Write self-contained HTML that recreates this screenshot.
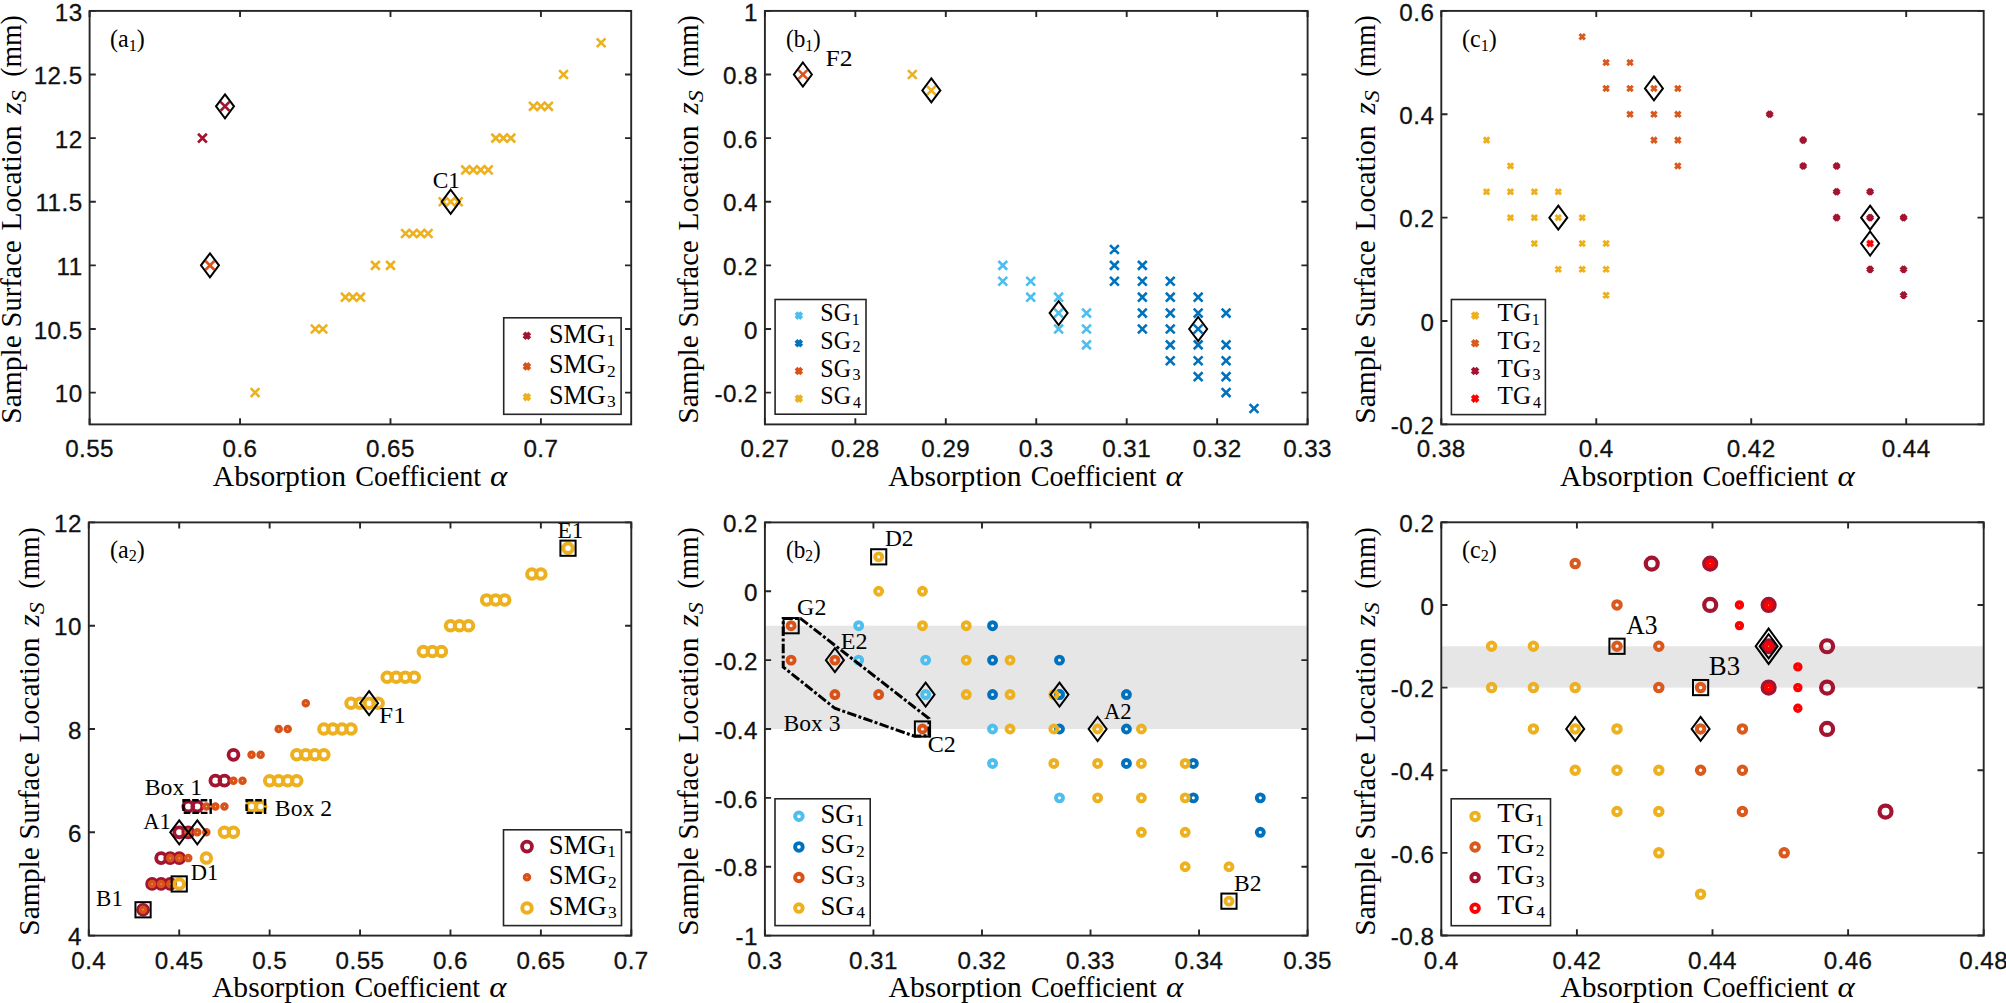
<!DOCTYPE html>
<html><head><meta charset="utf-8"><title>Figure</title>
<style>
html,body{margin:0;padding:0;background:#fff}
svg{display:block}
.tk{font-family:"Liberation Sans",sans-serif;font-size:24.2px;fill:#111;stroke:#111;stroke-width:0.3px;letter-spacing:0.45px}
.al{font-family:"Liberation Serif",serif;font-size:29px;fill:#000}
.an{font-family:"Liberation Serif",serif;fill:#000}
</style></head><body>
<svg width="2006" height="1003" viewBox="0 0 2006 1003">
<rect width="2006" height="1003" fill="#fff"/>
<path d="M250.69 388.19L259.49 396.99M250.69 396.99L259.49 388.19M310.87 324.58L319.67 333.38M310.87 333.38L319.67 324.58M318.39 324.58L327.19 333.38M318.39 333.38L327.19 324.58M340.96 292.77L349.76 301.57M340.96 301.57L349.76 292.77M348.48 292.77L357.28 301.57M348.48 301.57L357.28 292.77M356.00 292.77L364.80 301.57M356.00 301.57L364.80 292.77M371.04 260.96L379.84 269.76M371.04 269.76L379.84 260.96M386.09 260.96L394.89 269.76M386.09 269.76L394.89 260.96M401.13 229.15L409.93 237.95M401.13 237.95L409.93 229.15M408.66 229.15L417.46 237.95M408.66 237.95L417.46 229.15M416.18 229.15L424.98 237.95M416.18 237.95L424.98 229.15M423.70 229.15L432.50 237.95M423.70 237.95L432.50 229.15M438.74 197.35L447.54 206.15M438.74 206.15L447.54 197.35M446.27 197.35L455.07 206.15M446.27 206.15L455.07 197.35M453.79 197.35L462.59 206.15M453.79 206.15L462.59 197.35M461.31 165.54L470.11 174.34M461.31 174.34L470.11 165.54M468.83 165.54L477.63 174.34M468.83 174.34L477.63 165.54M476.36 165.54L485.16 174.34M476.36 174.34L485.16 165.54M483.88 165.54L492.68 174.34M483.88 174.34L492.68 165.54M491.40 133.73L500.20 142.53M491.40 142.53L500.20 133.73M498.92 133.73L507.72 142.53M498.92 142.53L507.72 133.73M506.44 133.73L515.24 142.53M506.44 142.53L515.24 133.73M529.01 101.92L537.81 110.72M529.01 110.72L537.81 101.92M536.53 101.92L545.33 110.72M536.53 110.72L545.33 101.92M544.06 101.92L552.86 110.72M544.06 110.72L552.86 101.92M559.10 70.12L567.90 78.92M559.10 78.92L567.90 70.12M596.71 38.31L605.51 47.11M596.71 47.11L605.51 38.31" stroke="#EDB120" stroke-width="2.6" fill="none"/>
<path d="M205.56 260.96L214.36 269.76M205.56 269.76L214.36 260.96" stroke="#D95319" stroke-width="2.6" fill="none"/>
<path d="M198.03 133.73L206.83 142.53M198.03 142.53L206.83 133.73M220.60 101.92L229.40 110.72M220.60 110.72L229.40 101.92" stroke="#A2142F" stroke-width="2.6" fill="none"/>
<path d="M225.00 94.32L234.00 106.32L225.00 118.32L216.00 106.32Z" stroke="#000" stroke-width="2" fill="none" stroke-linejoin="miter"/>
<path d="M209.96 253.36L218.96 265.36L209.96 277.36L200.96 265.36Z" stroke="#000" stroke-width="2" fill="none" stroke-linejoin="miter"/>
<path d="M450.67 189.75L459.67 201.75L450.67 213.75L441.67 201.75Z" stroke="#000" stroke-width="2" fill="none" stroke-linejoin="miter"/>
<rect x="89.60" y="10.90" width="541.60" height="413.50" fill="none" stroke="#262626" stroke-width="1.9"/>
<path d="M89.60 424.40v-6.2M89.60 10.90v6.2M240.04 424.40v-6.2M240.04 10.90v6.2M390.49 424.40v-6.2M390.49 10.90v6.2M540.93 424.40v-6.2M540.93 10.90v6.2M89.60 392.59h6.2M631.20 392.59h-6.2M89.60 328.98h6.2M631.20 328.98h-6.2M89.60 265.36h6.2M631.20 265.36h-6.2M89.60 201.75h6.2M631.20 201.75h-6.2M89.60 138.13h6.2M631.20 138.13h-6.2M89.60 74.52h6.2M631.20 74.52h-6.2M89.60 10.90h6.2M631.20 10.90h-6.2" stroke="#262626" stroke-width="1.9" fill="none"/>
<text x="89.60" y="457.40" text-anchor="middle" class="tk">0.55</text>
<text x="240.04" y="457.40" text-anchor="middle" class="tk">0.6</text>
<text x="390.49" y="457.40" text-anchor="middle" class="tk">0.65</text>
<text x="540.93" y="457.40" text-anchor="middle" class="tk">0.7</text>
<text x="82.60" y="402.29" text-anchor="end" class="tk">10</text>
<text x="82.60" y="338.68" text-anchor="end" class="tk">10.5</text>
<text x="82.60" y="275.06" text-anchor="end" class="tk">11</text>
<text x="82.60" y="211.45" text-anchor="end" class="tk">11.5</text>
<text x="82.60" y="147.83" text-anchor="end" class="tk">12</text>
<text x="82.60" y="84.22" text-anchor="end" class="tk">12.5</text>
<text x="82.60" y="20.60" text-anchor="end" class="tk">13</text>
<text x="110.00" y="47.00" class="an" font-size="24.5" textLength="34.8" lengthAdjust="spacingAndGlyphs">(a<tspan font-size="16.5" dy="3.8">1</tspan><tspan dy="-3.8">)</tspan></text>
<text x="432.76" y="188.00" class="an" font-size="23.4" textLength="27.29" lengthAdjust="spacingAndGlyphs">C1</text>
<rect x="503.70" y="317.80" width="117.40" height="96.50" fill="#fff" stroke="#262626" stroke-width="1.6"/>
<path d="M524.00 332.80L529.80 338.60M524.00 338.60L529.80 332.80" stroke="#A2142F" stroke-width="4.0" fill="none"/>
<text x="548.89" y="342.50" class="an" font-size="26.6" textLength="56.86" lengthAdjust="spacingAndGlyphs">SMG</text>
<text x="606.42" y="345.90" class="an" font-size="17.4" textLength="8.70" lengthAdjust="spacingAndGlyphs">1</text>
<path d="M524.00 363.50L529.80 369.30M524.00 369.30L529.80 363.50" stroke="#D95319" stroke-width="4.0" fill="none"/>
<text x="548.89" y="373.20" class="an" font-size="26.6" textLength="56.86" lengthAdjust="spacingAndGlyphs">SMG</text>
<text x="607.12" y="376.60" class="an" font-size="17.4" textLength="8.70" lengthAdjust="spacingAndGlyphs">2</text>
<path d="M524.00 394.20L529.80 400.00M524.00 400.00L529.80 394.20" stroke="#EDB120" stroke-width="4.0" fill="none"/>
<text x="548.89" y="403.90" class="an" font-size="26.6" textLength="56.86" lengthAdjust="spacingAndGlyphs">SMG</text>
<text x="607.12" y="407.30" class="an" font-size="17.4" textLength="8.70" lengthAdjust="spacingAndGlyphs">3</text>
<text x="212.80" y="486.30" class="al" style="font-size:29px" textLength="133.14" lengthAdjust="spacingAndGlyphs">Absorption</text>
<text x="355.18" y="486.30" class="al" style="font-size:29px" textLength="125.80" lengthAdjust="spacingAndGlyphs">Coefficient</text>
<text x="490.11" y="486.30" class="al" font-style="italic" style="font-size:29px" textLength="17.29" lengthAdjust="spacingAndGlyphs">α</text>
<text transform="translate(21.30 423.82) rotate(-90)" class="al" style="font-size:29px" textLength="88.74" lengthAdjust="spacingAndGlyphs">Sample</text>
<text transform="translate(21.30 327.45) rotate(-90)" class="al" style="font-size:29px" textLength="87.01" lengthAdjust="spacingAndGlyphs">Surface</text>
<text transform="translate(21.30 230.49) rotate(-90)" class="al" style="font-size:29px" textLength="105.00" lengthAdjust="spacingAndGlyphs">Location</text>
<text transform="translate(21.30 114.39) rotate(-90)" class="al" font-style="italic" style="font-size:29px" textLength="12.23" lengthAdjust="spacingAndGlyphs">z</text>
<text transform="translate(25.80 102.24) rotate(-90)" class="al" font-style="italic" style="font-size:20px" textLength="12.00" lengthAdjust="spacingAndGlyphs">S</text>
<text transform="translate(21.30 76.85) rotate(-90)" class="al" style="font-size:29px" textLength="61.71" lengthAdjust="spacingAndGlyphs">(mm)</text>
<path d="M998.38 260.96L1007.18 269.76M998.38 269.76L1007.18 260.96M998.38 276.87L1007.18 285.67M998.38 285.67L1007.18 276.87M1026.30 276.87L1035.10 285.67M1026.30 285.67L1035.10 276.87M1026.30 292.77L1035.10 301.57M1026.30 301.57L1035.10 292.77M1054.21 292.77L1063.01 301.57M1054.21 301.57L1063.01 292.77M1054.21 308.67L1063.01 317.47M1054.21 317.47L1063.01 308.67M1054.21 324.58L1063.01 333.38M1054.21 333.38L1063.01 324.58M1082.12 308.67L1090.92 317.47M1082.12 317.47L1090.92 308.67M1082.12 324.58L1090.92 333.38M1082.12 333.38L1090.92 324.58M1082.12 340.48L1090.92 349.28M1082.12 349.28L1090.92 340.48" stroke="#4DBEEE" stroke-width="2.6" fill="none"/>
<path d="M1110.03 245.06L1118.83 253.86M1110.03 253.86L1118.83 245.06M1110.03 260.96L1118.83 269.76M1110.03 269.76L1118.83 260.96M1110.03 276.87L1118.83 285.67M1110.03 285.67L1118.83 276.87M1137.95 260.96L1146.75 269.76M1137.95 269.76L1146.75 260.96M1137.95 276.87L1146.75 285.67M1137.95 285.67L1146.75 276.87M1137.95 292.77L1146.75 301.57M1137.95 301.57L1146.75 292.77M1137.95 308.67L1146.75 317.47M1137.95 317.47L1146.75 308.67M1137.95 324.58L1146.75 333.38M1137.95 333.38L1146.75 324.58M1165.86 276.87L1174.66 285.67M1165.86 285.67L1174.66 276.87M1165.86 292.77L1174.66 301.57M1165.86 301.57L1174.66 292.77M1165.86 308.67L1174.66 317.47M1165.86 317.47L1174.66 308.67M1165.86 324.58L1174.66 333.38M1165.86 333.38L1174.66 324.58M1165.86 340.48L1174.66 349.28M1165.86 349.28L1174.66 340.48M1165.86 356.38L1174.66 365.18M1165.86 365.18L1174.66 356.38M1193.77 292.77L1202.57 301.57M1193.77 301.57L1202.57 292.77M1193.77 308.67L1202.57 317.47M1193.77 317.47L1202.57 308.67M1193.77 324.58L1202.57 333.38M1193.77 333.38L1202.57 324.58M1193.77 340.48L1202.57 349.28M1193.77 349.28L1202.57 340.48M1193.77 356.38L1202.57 365.18M1193.77 365.18L1202.57 356.38M1193.77 372.29L1202.57 381.09M1193.77 381.09L1202.57 372.29M1221.69 308.67L1230.49 317.47M1221.69 317.47L1230.49 308.67M1221.69 340.48L1230.49 349.28M1221.69 349.28L1230.49 340.48M1221.69 356.38L1230.49 365.18M1221.69 365.18L1230.49 356.38M1221.69 372.29L1230.49 381.09M1221.69 381.09L1230.49 372.29M1221.69 388.19L1230.49 396.99M1221.69 396.99L1230.49 388.19M1249.60 404.10L1258.40 412.90M1249.60 412.90L1258.40 404.10" stroke="#0072BD" stroke-width="2.6" fill="none"/>
<path d="M798.49 70.12L807.29 78.92M798.49 78.92L807.29 70.12" stroke="#D95319" stroke-width="2.6" fill="none"/>
<path d="M907.93 70.12L916.73 78.92M907.93 78.92L916.73 70.12M926.93 86.02L935.73 94.82M926.93 94.82L935.73 86.02" stroke="#EDB120" stroke-width="2.6" fill="none"/>
<path d="M802.89 62.52L811.89 74.52L802.89 86.52L793.89 74.52Z" stroke="#000" stroke-width="2" fill="none" stroke-linejoin="miter"/>
<path d="M931.33 78.42L940.33 90.42L931.33 102.42L922.33 90.42Z" stroke="#000" stroke-width="2" fill="none" stroke-linejoin="miter"/>
<path d="M1058.61 301.07L1067.61 313.07L1058.61 325.07L1049.61 313.07Z" stroke="#000" stroke-width="2" fill="none" stroke-linejoin="miter"/>
<path d="M1198.17 316.98L1207.17 328.98L1198.17 340.98L1189.17 328.98Z" stroke="#000" stroke-width="2" fill="none" stroke-linejoin="miter"/>
<rect x="764.90" y="10.90" width="542.70" height="413.50" fill="none" stroke="#262626" stroke-width="1.9"/>
<path d="M764.90 424.40v-6.2M764.90 10.90v6.2M855.35 424.40v-6.2M855.35 10.90v6.2M945.80 424.40v-6.2M945.80 10.90v6.2M1036.25 424.40v-6.2M1036.25 10.90v6.2M1126.70 424.40v-6.2M1126.70 10.90v6.2M1217.15 424.40v-6.2M1217.15 10.90v6.2M1307.60 424.40v-6.2M1307.60 10.90v6.2M764.90 392.59h6.2M1307.60 392.59h-6.2M764.90 328.98h6.2M1307.60 328.98h-6.2M764.90 265.36h6.2M1307.60 265.36h-6.2M764.90 201.75h6.2M1307.60 201.75h-6.2M764.90 138.13h6.2M1307.60 138.13h-6.2M764.90 74.52h6.2M1307.60 74.52h-6.2M764.90 10.90h6.2M1307.60 10.90h-6.2" stroke="#262626" stroke-width="1.9" fill="none"/>
<text x="764.90" y="457.40" text-anchor="middle" class="tk">0.27</text>
<text x="855.35" y="457.40" text-anchor="middle" class="tk">0.28</text>
<text x="945.80" y="457.40" text-anchor="middle" class="tk">0.29</text>
<text x="1036.25" y="457.40" text-anchor="middle" class="tk">0.3</text>
<text x="1126.70" y="457.40" text-anchor="middle" class="tk">0.31</text>
<text x="1217.15" y="457.40" text-anchor="middle" class="tk">0.32</text>
<text x="1307.60" y="457.40" text-anchor="middle" class="tk">0.33</text>
<text x="757.90" y="402.29" text-anchor="end" class="tk">-0.2</text>
<text x="757.90" y="338.68" text-anchor="end" class="tk">0</text>
<text x="757.90" y="275.06" text-anchor="end" class="tk">0.2</text>
<text x="757.90" y="211.45" text-anchor="end" class="tk">0.4</text>
<text x="757.90" y="147.83" text-anchor="end" class="tk">0.6</text>
<text x="757.90" y="84.22" text-anchor="end" class="tk">0.8</text>
<text x="757.90" y="20.60" text-anchor="end" class="tk">1</text>
<text x="786.00" y="47.00" class="an" font-size="24.5" textLength="34.8" lengthAdjust="spacingAndGlyphs">(b<tspan font-size="16.5" dy="3.8">1</tspan><tspan dy="-3.8">)</tspan></text>
<text x="825.43" y="65.80" class="an" font-size="23.4" textLength="27.00" lengthAdjust="spacingAndGlyphs">F2</text>
<rect x="775.10" y="299.50" width="90.90" height="114.70" fill="#fff" stroke="#262626" stroke-width="1.6"/>
<path d="M795.95 312.70L801.75 318.50M795.95 318.50L801.75 312.70" stroke="#4DBEEE" stroke-width="4.0" fill="none"/>
<text x="820.34" y="321.10" class="an" font-size="24.6" textLength="30.66" lengthAdjust="spacingAndGlyphs">SG</text>
<text x="851.83" y="324.50" class="an" font-size="16.1" textLength="8.05" lengthAdjust="spacingAndGlyphs">1</text>
<path d="M795.95 340.40L801.75 346.20M795.95 346.20L801.75 340.40" stroke="#0072BD" stroke-width="4.0" fill="none"/>
<text x="820.34" y="348.80" class="an" font-size="24.6" textLength="30.66" lengthAdjust="spacingAndGlyphs">SG</text>
<text x="852.48" y="352.20" class="an" font-size="16.1" textLength="8.05" lengthAdjust="spacingAndGlyphs">2</text>
<path d="M795.95 368.10L801.75 373.90M795.95 373.90L801.75 368.10" stroke="#D95319" stroke-width="4.0" fill="none"/>
<text x="820.34" y="376.50" class="an" font-size="24.6" textLength="30.66" lengthAdjust="spacingAndGlyphs">SG</text>
<text x="852.48" y="379.90" class="an" font-size="16.1" textLength="8.05" lengthAdjust="spacingAndGlyphs">3</text>
<path d="M795.95 395.70L801.75 401.50M795.95 401.50L801.75 395.70" stroke="#EDB120" stroke-width="4.0" fill="none"/>
<text x="820.34" y="404.10" class="an" font-size="24.6" textLength="30.66" lengthAdjust="spacingAndGlyphs">SG</text>
<text x="852.88" y="407.50" class="an" font-size="16.1" textLength="8.05" lengthAdjust="spacingAndGlyphs">4</text>
<text x="888.30" y="486.30" class="al" style="font-size:29px" textLength="133.14" lengthAdjust="spacingAndGlyphs">Absorption</text>
<text x="1030.68" y="486.30" class="al" style="font-size:29px" textLength="125.80" lengthAdjust="spacingAndGlyphs">Coefficient</text>
<text x="1165.61" y="486.30" class="al" font-style="italic" style="font-size:29px" textLength="17.29" lengthAdjust="spacingAndGlyphs">α</text>
<text transform="translate(698.10 423.82) rotate(-90)" class="al" style="font-size:29px" textLength="88.74" lengthAdjust="spacingAndGlyphs">Sample</text>
<text transform="translate(698.10 327.45) rotate(-90)" class="al" style="font-size:29px" textLength="87.01" lengthAdjust="spacingAndGlyphs">Surface</text>
<text transform="translate(698.10 230.49) rotate(-90)" class="al" style="font-size:29px" textLength="105.00" lengthAdjust="spacingAndGlyphs">Location</text>
<text transform="translate(698.10 114.39) rotate(-90)" class="al" font-style="italic" style="font-size:29px" textLength="12.23" lengthAdjust="spacingAndGlyphs">z</text>
<text transform="translate(702.60 102.24) rotate(-90)" class="al" font-style="italic" style="font-size:20px" textLength="12.00" lengthAdjust="spacingAndGlyphs">S</text>
<text transform="translate(698.10 76.85) rotate(-90)" class="al" style="font-size:29px" textLength="61.71" lengthAdjust="spacingAndGlyphs">(mm)</text>
<path d="M1483.85 137.42L1489.25 142.82M1483.85 142.82L1489.25 137.42M1483.85 189.11L1489.25 194.51M1483.85 194.51L1489.25 189.11M1507.76 163.26L1513.16 168.66M1507.76 168.66L1513.16 163.26M1507.76 189.11L1513.16 194.51M1507.76 194.51L1513.16 189.11M1507.76 214.95L1513.16 220.35M1507.76 220.35L1513.16 214.95M1531.68 189.11L1537.08 194.51M1531.68 194.51L1537.08 189.11M1531.68 214.95L1537.08 220.35M1531.68 220.35L1537.08 214.95M1531.68 240.79L1537.08 246.19M1531.68 246.19L1537.08 240.79M1555.59 189.11L1560.99 194.51M1555.59 194.51L1560.99 189.11M1555.59 214.95L1560.99 220.35M1555.59 220.35L1560.99 214.95M1555.59 266.64L1560.99 272.04M1555.59 272.04L1560.99 266.64M1579.50 214.95L1584.90 220.35M1579.50 220.35L1584.90 214.95M1579.50 240.79L1584.90 246.19M1579.50 246.19L1584.90 240.79M1579.50 266.64L1584.90 272.04M1579.50 272.04L1584.90 266.64M1603.41 240.79L1608.81 246.19M1603.41 246.19L1608.81 240.79M1603.41 266.64L1608.81 272.04M1603.41 272.04L1608.81 266.64M1603.41 292.48L1608.81 297.88M1603.41 297.88L1608.81 292.48" stroke="#EDB120" stroke-width="3" fill="none"/>
<path d="M1579.50 34.04L1584.90 39.44M1579.50 39.44L1584.90 34.04M1603.41 59.89L1608.81 65.29M1603.41 65.29L1608.81 59.89M1603.41 85.73L1608.81 91.13M1603.41 91.13L1608.81 85.73M1627.32 59.89L1632.72 65.29M1627.32 65.29L1632.72 59.89M1627.32 85.73L1632.72 91.13M1627.32 91.13L1632.72 85.73M1627.32 111.57L1632.72 116.97M1627.32 116.97L1632.72 111.57M1651.24 85.73L1656.64 91.13M1651.24 91.13L1656.64 85.73M1651.24 111.57L1656.64 116.97M1651.24 116.97L1656.64 111.57M1651.24 137.42L1656.64 142.82M1651.24 142.82L1656.64 137.42M1675.15 85.73L1680.55 91.13M1675.15 91.13L1680.55 85.73M1675.15 111.57L1680.55 116.97M1675.15 116.97L1680.55 111.57M1675.15 137.42L1680.55 142.82M1675.15 142.82L1680.55 137.42M1675.15 163.26L1680.55 168.66M1675.15 168.66L1680.55 163.26" stroke="#D95A1C" stroke-width="3" fill="none"/>
<path d="M1767.18 111.77L1772.18 116.77M1767.18 116.77L1772.18 111.77M1800.66 137.62L1805.66 142.62M1800.66 142.62L1805.66 137.62M1800.66 163.46L1805.66 168.46M1800.66 168.46L1805.66 163.46M1834.13 163.46L1839.13 168.46M1834.13 168.46L1839.13 163.46M1834.13 189.31L1839.13 194.31M1834.13 194.31L1839.13 189.31M1834.13 215.15L1839.13 220.15M1834.13 220.15L1839.13 215.15M1867.61 189.31L1872.61 194.31M1867.61 194.31L1872.61 189.31M1867.61 215.15L1872.61 220.15M1867.61 220.15L1872.61 215.15M1867.61 266.84L1872.61 271.84M1867.61 271.84L1872.61 266.84M1901.08 215.15L1906.08 220.15M1901.08 220.15L1906.08 215.15M1901.08 266.84L1906.08 271.84M1901.08 271.84L1906.08 266.84M1901.08 292.68L1906.08 297.68M1901.08 297.68L1906.08 292.68" stroke="#A2142F" stroke-width="4.4" fill="none"/>
<path d="M1867.41 240.79L1872.81 246.19M1867.41 246.19L1872.81 240.79" stroke="#FF0000" stroke-width="3.6" fill="none"/>
<path d="M1558.29 205.65L1567.29 217.65L1558.29 229.65L1549.29 217.65Z" stroke="#000" stroke-width="2" fill="none" stroke-linejoin="miter"/>
<path d="M1653.94 76.43L1662.94 88.43L1653.94 100.43L1644.94 88.43Z" stroke="#000" stroke-width="2" fill="none" stroke-linejoin="miter"/>
<path d="M1870.11 205.65L1879.11 217.65L1870.11 229.65L1861.11 217.65Z" stroke="#000" stroke-width="2" fill="none" stroke-linejoin="miter"/>
<path d="M1870.11 231.49L1879.11 243.49L1870.11 255.49L1861.11 243.49Z" stroke="#000" stroke-width="2" fill="none" stroke-linejoin="miter"/>
<rect x="1441.30" y="10.90" width="542.40" height="413.50" fill="none" stroke="#262626" stroke-width="1.9"/>
<path d="M1441.30 424.40v-6.2M1441.30 10.90v6.2M1596.27 424.40v-6.2M1596.27 10.90v6.2M1751.24 424.40v-6.2M1751.24 10.90v6.2M1906.21 424.40v-6.2M1906.21 10.90v6.2M1441.30 424.40h6.2M1983.70 424.40h-6.2M1441.30 321.02h6.2M1983.70 321.02h-6.2M1441.30 217.65h6.2M1983.70 217.65h-6.2M1441.30 114.27h6.2M1983.70 114.27h-6.2M1441.30 10.90h6.2M1983.70 10.90h-6.2" stroke="#262626" stroke-width="1.9" fill="none"/>
<text x="1441.30" y="457.40" text-anchor="middle" class="tk">0.38</text>
<text x="1596.27" y="457.40" text-anchor="middle" class="tk">0.4</text>
<text x="1751.24" y="457.40" text-anchor="middle" class="tk">0.42</text>
<text x="1906.21" y="457.40" text-anchor="middle" class="tk">0.44</text>
<text x="1434.30" y="434.10" text-anchor="end" class="tk">-0.2</text>
<text x="1434.30" y="330.72" text-anchor="end" class="tk">0</text>
<text x="1434.30" y="227.35" text-anchor="end" class="tk">0.2</text>
<text x="1434.30" y="123.97" text-anchor="end" class="tk">0.4</text>
<text x="1434.30" y="20.60" text-anchor="end" class="tk">0.6</text>
<text x="1462.00" y="47.00" class="an" font-size="24.5" textLength="34.8" lengthAdjust="spacingAndGlyphs">(c<tspan font-size="16.5" dy="3.8">1</tspan><tspan dy="-3.8">)</tspan></text>
<rect x="1451.40" y="299.50" width="94.00" height="115.10" fill="#fff" stroke="#262626" stroke-width="1.6"/>
<path d="M1472.20 312.70L1478.00 318.50M1472.20 318.50L1478.00 312.70" stroke="#EDB120" stroke-width="4.0" fill="none"/>
<text x="1497.60" y="321.10" class="an" font-size="24.6" textLength="33.43" lengthAdjust="spacingAndGlyphs">TG</text>
<text x="1531.83" y="324.50" class="an" font-size="16.1" textLength="8.05" lengthAdjust="spacingAndGlyphs">1</text>
<path d="M1472.20 340.40L1478.00 346.20M1472.20 346.20L1478.00 340.40" stroke="#D95A1C" stroke-width="4.0" fill="none"/>
<text x="1497.60" y="348.80" class="an" font-size="24.6" textLength="33.43" lengthAdjust="spacingAndGlyphs">TG</text>
<text x="1532.48" y="352.20" class="an" font-size="16.1" textLength="8.05" lengthAdjust="spacingAndGlyphs">2</text>
<path d="M1472.20 368.10L1478.00 373.90M1472.20 373.90L1478.00 368.10" stroke="#A2142F" stroke-width="4.0" fill="none"/>
<text x="1497.60" y="376.50" class="an" font-size="24.6" textLength="33.43" lengthAdjust="spacingAndGlyphs">TG</text>
<text x="1532.48" y="379.90" class="an" font-size="16.1" textLength="8.05" lengthAdjust="spacingAndGlyphs">3</text>
<path d="M1472.20 395.70L1478.00 401.50M1472.20 401.50L1478.00 395.70" stroke="#FF0000" stroke-width="4.0" fill="none"/>
<text x="1497.60" y="404.10" class="an" font-size="24.6" textLength="33.43" lengthAdjust="spacingAndGlyphs">TG</text>
<text x="1532.88" y="407.50" class="an" font-size="16.1" textLength="8.05" lengthAdjust="spacingAndGlyphs">4</text>
<text x="1560.10" y="486.30" class="al" style="font-size:29px" textLength="133.14" lengthAdjust="spacingAndGlyphs">Absorption</text>
<text x="1702.48" y="486.30" class="al" style="font-size:29px" textLength="125.80" lengthAdjust="spacingAndGlyphs">Coefficient</text>
<text x="1837.41" y="486.30" class="al" font-style="italic" style="font-size:29px" textLength="17.29" lengthAdjust="spacingAndGlyphs">α</text>
<text transform="translate(1374.70 423.82) rotate(-90)" class="al" style="font-size:29px" textLength="88.74" lengthAdjust="spacingAndGlyphs">Sample</text>
<text transform="translate(1374.70 327.45) rotate(-90)" class="al" style="font-size:29px" textLength="87.01" lengthAdjust="spacingAndGlyphs">Surface</text>
<text transform="translate(1374.70 230.49) rotate(-90)" class="al" style="font-size:29px" textLength="105.00" lengthAdjust="spacingAndGlyphs">Location</text>
<text transform="translate(1374.70 114.39) rotate(-90)" class="al" font-style="italic" style="font-size:29px" textLength="12.23" lengthAdjust="spacingAndGlyphs">z</text>
<text transform="translate(1379.20 102.24) rotate(-90)" class="al" font-style="italic" style="font-size:20px" textLength="12.00" lengthAdjust="spacingAndGlyphs">S</text>
<text transform="translate(1374.70 76.85) rotate(-90)" class="al" style="font-size:29px" textLength="61.71" lengthAdjust="spacingAndGlyphs">(mm)</text>
<circle cx="143.05" cy="909.77" r="4.95" stroke="#A2142F" stroke-width="3.8" fill="none"/>
<circle cx="152.09" cy="883.95" r="4.95" stroke="#A2142F" stroke-width="3.8" fill="none"/>
<circle cx="161.13" cy="883.95" r="4.95" stroke="#A2142F" stroke-width="3.8" fill="none"/>
<circle cx="170.18" cy="883.95" r="4.95" stroke="#A2142F" stroke-width="3.8" fill="none"/>
<circle cx="161.13" cy="858.12" r="4.95" stroke="#A2142F" stroke-width="3.8" fill="none"/>
<circle cx="170.18" cy="858.12" r="4.95" stroke="#A2142F" stroke-width="3.8" fill="none"/>
<circle cx="179.22" cy="858.12" r="4.95" stroke="#A2142F" stroke-width="3.8" fill="none"/>
<circle cx="179.22" cy="832.30" r="4.95" stroke="#A2142F" stroke-width="3.8" fill="none"/>
<circle cx="188.26" cy="832.30" r="4.95" stroke="#A2142F" stroke-width="3.8" fill="none"/>
<circle cx="188.26" cy="806.48" r="4.95" stroke="#A2142F" stroke-width="3.8" fill="none"/>
<circle cx="197.30" cy="806.48" r="4.95" stroke="#A2142F" stroke-width="3.8" fill="none"/>
<circle cx="215.38" cy="780.65" r="4.95" stroke="#A2142F" stroke-width="3.8" fill="none"/>
<circle cx="224.42" cy="780.65" r="4.95" stroke="#A2142F" stroke-width="3.8" fill="none"/>
<circle cx="233.47" cy="754.83" r="4.95" stroke="#A2142F" stroke-width="3.8" fill="none"/>
<circle cx="143.05" cy="909.77" r="2.4" stroke="#D95319" stroke-width="3.7" fill="none"/>
<circle cx="152.09" cy="883.95" r="2.4" stroke="#D95319" stroke-width="3.7" fill="none"/>
<circle cx="161.13" cy="883.95" r="2.4" stroke="#D95319" stroke-width="3.7" fill="none"/>
<circle cx="170.18" cy="883.95" r="2.4" stroke="#D95319" stroke-width="3.7" fill="none"/>
<circle cx="170.18" cy="858.12" r="2.4" stroke="#D95319" stroke-width="3.7" fill="none"/>
<circle cx="179.22" cy="858.12" r="2.4" stroke="#D95319" stroke-width="3.7" fill="none"/>
<circle cx="188.26" cy="858.12" r="2.4" stroke="#D95319" stroke-width="3.7" fill="none"/>
<circle cx="188.26" cy="832.30" r="2.4" stroke="#D95319" stroke-width="3.7" fill="none"/>
<circle cx="197.30" cy="832.30" r="2.4" stroke="#D95319" stroke-width="3.7" fill="none"/>
<circle cx="206.34" cy="832.30" r="2.4" stroke="#D95319" stroke-width="3.7" fill="none"/>
<circle cx="206.34" cy="806.48" r="2.4" stroke="#D95319" stroke-width="3.7" fill="none"/>
<circle cx="215.38" cy="806.48" r="2.4" stroke="#D95319" stroke-width="3.7" fill="none"/>
<circle cx="224.42" cy="806.48" r="2.4" stroke="#D95319" stroke-width="3.7" fill="none"/>
<circle cx="233.47" cy="780.65" r="2.4" stroke="#D95319" stroke-width="3.7" fill="none"/>
<circle cx="242.51" cy="780.65" r="2.4" stroke="#D95319" stroke-width="3.7" fill="none"/>
<circle cx="251.55" cy="754.83" r="2.4" stroke="#D95319" stroke-width="3.7" fill="none"/>
<circle cx="260.59" cy="754.83" r="2.4" stroke="#D95319" stroke-width="3.7" fill="none"/>
<circle cx="278.68" cy="729.00" r="2.4" stroke="#D95319" stroke-width="3.7" fill="none"/>
<circle cx="287.72" cy="729.00" r="2.4" stroke="#D95319" stroke-width="3.7" fill="none"/>
<circle cx="305.80" cy="703.17" r="2.4" stroke="#D95319" stroke-width="3.7" fill="none"/>
<circle cx="179.22" cy="883.95" r="4.75" stroke="#EDB120" stroke-width="4.0" fill="none"/>
<circle cx="206.34" cy="858.12" r="4.75" stroke="#EDB120" stroke-width="4.0" fill="none"/>
<circle cx="224.42" cy="832.30" r="4.75" stroke="#EDB120" stroke-width="4.0" fill="none"/>
<circle cx="233.47" cy="832.30" r="4.75" stroke="#EDB120" stroke-width="4.0" fill="none"/>
<circle cx="251.55" cy="806.48" r="4.75" stroke="#EDB120" stroke-width="4.0" fill="none"/>
<circle cx="260.59" cy="806.48" r="4.75" stroke="#EDB120" stroke-width="4.0" fill="none"/>
<circle cx="269.63" cy="780.65" r="4.75" stroke="#EDB120" stroke-width="4.0" fill="none"/>
<circle cx="278.68" cy="780.65" r="4.75" stroke="#EDB120" stroke-width="4.0" fill="none"/>
<circle cx="287.72" cy="780.65" r="4.75" stroke="#EDB120" stroke-width="4.0" fill="none"/>
<circle cx="296.76" cy="780.65" r="4.75" stroke="#EDB120" stroke-width="4.0" fill="none"/>
<circle cx="296.76" cy="754.83" r="4.75" stroke="#EDB120" stroke-width="4.0" fill="none"/>
<circle cx="305.80" cy="754.83" r="4.75" stroke="#EDB120" stroke-width="4.0" fill="none"/>
<circle cx="314.84" cy="754.83" r="4.75" stroke="#EDB120" stroke-width="4.0" fill="none"/>
<circle cx="323.88" cy="754.83" r="4.75" stroke="#EDB120" stroke-width="4.0" fill="none"/>
<circle cx="323.88" cy="729.00" r="4.75" stroke="#EDB120" stroke-width="4.0" fill="none"/>
<circle cx="332.93" cy="729.00" r="4.75" stroke="#EDB120" stroke-width="4.0" fill="none"/>
<circle cx="341.97" cy="729.00" r="4.75" stroke="#EDB120" stroke-width="4.0" fill="none"/>
<circle cx="351.01" cy="729.00" r="4.75" stroke="#EDB120" stroke-width="4.0" fill="none"/>
<circle cx="351.01" cy="703.17" r="4.75" stroke="#EDB120" stroke-width="4.0" fill="none"/>
<circle cx="360.05" cy="703.17" r="4.75" stroke="#EDB120" stroke-width="4.0" fill="none"/>
<circle cx="369.09" cy="703.17" r="4.75" stroke="#EDB120" stroke-width="4.0" fill="none"/>
<circle cx="378.13" cy="703.17" r="4.75" stroke="#EDB120" stroke-width="4.0" fill="none"/>
<circle cx="387.17" cy="677.35" r="4.75" stroke="#EDB120" stroke-width="4.0" fill="none"/>
<circle cx="396.22" cy="677.35" r="4.75" stroke="#EDB120" stroke-width="4.0" fill="none"/>
<circle cx="405.26" cy="677.35" r="4.75" stroke="#EDB120" stroke-width="4.0" fill="none"/>
<circle cx="414.30" cy="677.35" r="4.75" stroke="#EDB120" stroke-width="4.0" fill="none"/>
<circle cx="423.34" cy="651.52" r="4.75" stroke="#EDB120" stroke-width="4.0" fill="none"/>
<circle cx="432.38" cy="651.52" r="4.75" stroke="#EDB120" stroke-width="4.0" fill="none"/>
<circle cx="441.43" cy="651.52" r="4.75" stroke="#EDB120" stroke-width="4.0" fill="none"/>
<circle cx="450.47" cy="625.70" r="4.75" stroke="#EDB120" stroke-width="4.0" fill="none"/>
<circle cx="459.51" cy="625.70" r="4.75" stroke="#EDB120" stroke-width="4.0" fill="none"/>
<circle cx="468.55" cy="625.70" r="4.75" stroke="#EDB120" stroke-width="4.0" fill="none"/>
<circle cx="486.63" cy="599.88" r="4.75" stroke="#EDB120" stroke-width="4.0" fill="none"/>
<circle cx="495.68" cy="599.88" r="4.75" stroke="#EDB120" stroke-width="4.0" fill="none"/>
<circle cx="504.72" cy="599.88" r="4.75" stroke="#EDB120" stroke-width="4.0" fill="none"/>
<circle cx="531.84" cy="574.05" r="4.75" stroke="#EDB120" stroke-width="4.0" fill="none"/>
<circle cx="540.88" cy="574.05" r="4.75" stroke="#EDB120" stroke-width="4.0" fill="none"/>
<circle cx="568.01" cy="548.22" r="4.75" stroke="#EDB120" stroke-width="4.0" fill="none"/>
<path d="M179.22 820.30L188.22 832.30L179.22 844.30L170.22 832.30Z" stroke="#000" stroke-width="2" fill="none" stroke-linejoin="miter"/>
<path d="M197.30 820.30L206.30 832.30L197.30 844.30L188.30 832.30Z" stroke="#000" stroke-width="2" fill="none" stroke-linejoin="miter"/>
<path d="M369.09 691.17L378.09 703.17L369.09 715.17L360.09 703.17Z" stroke="#000" stroke-width="2" fill="none" stroke-linejoin="miter"/>
<rect x="135.45" y="902.17" width="15.20" height="15.20" stroke="#000" stroke-width="2" fill="none"/>
<rect x="171.62" y="876.35" width="15.20" height="15.20" stroke="#000" stroke-width="2" fill="none"/>
<rect x="560.41" y="540.62" width="15.20" height="15.20" stroke="#000" stroke-width="2" fill="none"/>
<rect x="183.50" y="800.30" width="27.20" height="12.60" fill="none" stroke="#000" stroke-width="2.4" stroke-dasharray="6.6 2"/>
<rect x="246.60" y="800.30" width="18.50" height="12.60" fill="none" stroke="#000" stroke-width="2.4" stroke-dasharray="6.6 2"/>
<rect x="88.80" y="522.40" width="542.50" height="413.20" fill="none" stroke="#262626" stroke-width="1.9"/>
<path d="M88.80 935.60v-6.2M88.80 522.40v6.2M179.22 935.60v-6.2M179.22 522.40v6.2M269.63 935.60v-6.2M269.63 522.40v6.2M360.05 935.60v-6.2M360.05 522.40v6.2M450.47 935.60v-6.2M450.47 522.40v6.2M540.88 935.60v-6.2M540.88 522.40v6.2M631.30 935.60v-6.2M631.30 522.40v6.2M88.80 935.60h6.2M631.30 935.60h-6.2M88.80 832.30h6.2M631.30 832.30h-6.2M88.80 729.00h6.2M631.30 729.00h-6.2M88.80 625.70h6.2M631.30 625.70h-6.2M88.80 522.40h6.2M631.30 522.40h-6.2" stroke="#262626" stroke-width="1.9" fill="none"/>
<text x="88.80" y="968.60" text-anchor="middle" class="tk">0.4</text>
<text x="179.22" y="968.60" text-anchor="middle" class="tk">0.45</text>
<text x="269.63" y="968.60" text-anchor="middle" class="tk">0.5</text>
<text x="360.05" y="968.60" text-anchor="middle" class="tk">0.55</text>
<text x="450.47" y="968.60" text-anchor="middle" class="tk">0.6</text>
<text x="540.88" y="968.60" text-anchor="middle" class="tk">0.65</text>
<text x="631.30" y="968.60" text-anchor="middle" class="tk">0.7</text>
<text x="81.80" y="945.30" text-anchor="end" class="tk">4</text>
<text x="81.80" y="842.00" text-anchor="end" class="tk">6</text>
<text x="81.80" y="738.70" text-anchor="end" class="tk">8</text>
<text x="81.80" y="635.40" text-anchor="end" class="tk">10</text>
<text x="81.80" y="532.10" text-anchor="end" class="tk">12</text>
<text x="110.00" y="557.50" class="an" font-size="24.5" textLength="34.8" lengthAdjust="spacingAndGlyphs">(a<tspan font-size="16.5" dy="3.8">2</tspan><tspan dy="-3.8">)</tspan></text>
<text x="144.79" y="794.90" class="an" font-size="23.4" textLength="57.38" lengthAdjust="spacingAndGlyphs">Box 1</text>
<text x="274.89" y="815.80" class="an" font-size="23.4" textLength="57.26" lengthAdjust="spacingAndGlyphs">Box 2</text>
<text x="143.17" y="828.80" class="an" font-size="23.4" textLength="27.53" lengthAdjust="spacingAndGlyphs">A1</text>
<text x="96.11" y="906.00" class="an" font-size="23.4" textLength="26.81" lengthAdjust="spacingAndGlyphs">B1</text>
<text x="190.83" y="880.30" class="an" font-size="23.4" textLength="27.47" lengthAdjust="spacingAndGlyphs">D1</text>
<text x="379.14" y="723.30" class="an" font-size="23.4" textLength="26.81" lengthAdjust="spacingAndGlyphs">F1</text>
<text x="557.40" y="537.60" class="an" font-size="23.4" textLength="25.92" lengthAdjust="spacingAndGlyphs">E1</text>
<rect x="503.50" y="829.80" width="118.00" height="95.80" fill="#fff" stroke="#262626" stroke-width="1.6"/>
<circle cx="527.00" cy="846.60" r="4.95" stroke="#A2142F" stroke-width="3.8" fill="none"/>
<text x="548.87" y="853.50" class="an" font-size="26.6" textLength="57.80" lengthAdjust="spacingAndGlyphs">SMG</text>
<text x="607.32" y="856.90" class="an" font-size="17.4" textLength="8.70" lengthAdjust="spacingAndGlyphs">1</text>
<circle cx="527.00" cy="877.30" r="2.4" stroke="#D95319" stroke-width="3.7" fill="none"/>
<text x="548.87" y="884.20" class="an" font-size="26.6" textLength="57.80" lengthAdjust="spacingAndGlyphs">SMG</text>
<text x="608.02" y="887.60" class="an" font-size="17.4" textLength="8.70" lengthAdjust="spacingAndGlyphs">2</text>
<circle cx="527.00" cy="907.90" r="4.75" stroke="#EDB120" stroke-width="4.0" fill="none"/>
<text x="548.87" y="914.80" class="an" font-size="26.6" textLength="57.80" lengthAdjust="spacingAndGlyphs">SMG</text>
<text x="608.02" y="918.20" class="an" font-size="17.4" textLength="8.70" lengthAdjust="spacingAndGlyphs">3</text>
<text x="212.00" y="996.50" class="al" style="font-size:29px" textLength="133.14" lengthAdjust="spacingAndGlyphs">Absorption</text>
<text x="354.38" y="996.50" class="al" style="font-size:29px" textLength="125.80" lengthAdjust="spacingAndGlyphs">Coefficient</text>
<text x="489.31" y="996.50" class="al" font-style="italic" style="font-size:29px" textLength="17.29" lengthAdjust="spacingAndGlyphs">α</text>
<text transform="translate(39.30 935.82) rotate(-90)" class="al" style="font-size:29px" textLength="88.74" lengthAdjust="spacingAndGlyphs">Sample</text>
<text transform="translate(39.30 839.45) rotate(-90)" class="al" style="font-size:29px" textLength="87.01" lengthAdjust="spacingAndGlyphs">Surface</text>
<text transform="translate(39.30 742.49) rotate(-90)" class="al" style="font-size:29px" textLength="105.00" lengthAdjust="spacingAndGlyphs">Location</text>
<text transform="translate(39.30 626.39) rotate(-90)" class="al" font-style="italic" style="font-size:29px" textLength="12.23" lengthAdjust="spacingAndGlyphs">z</text>
<text transform="translate(43.80 614.24) rotate(-90)" class="al" font-style="italic" style="font-size:20px" textLength="12.00" lengthAdjust="spacingAndGlyphs">S</text>
<text transform="translate(39.30 588.85) rotate(-90)" class="al" style="font-size:29px" textLength="61.71" lengthAdjust="spacingAndGlyphs">(mm)</text>
<rect x="764.90" y="625.70" width="542.70" height="103.30" fill="#e6e6e6"/>
<circle cx="858.68" cy="625.70" r="3.5" stroke="#4DBEEE" stroke-width="3.9" fill="none"/>
<circle cx="858.68" cy="660.13" r="3.5" stroke="#4DBEEE" stroke-width="3.9" fill="none"/>
<circle cx="925.62" cy="660.13" r="3.5" stroke="#4DBEEE" stroke-width="3.9" fill="none"/>
<circle cx="925.62" cy="694.57" r="3.5" stroke="#4DBEEE" stroke-width="3.9" fill="none"/>
<circle cx="992.55" cy="729.00" r="3.5" stroke="#4DBEEE" stroke-width="3.9" fill="none"/>
<circle cx="992.55" cy="763.43" r="3.5" stroke="#4DBEEE" stroke-width="3.9" fill="none"/>
<circle cx="1059.49" cy="694.57" r="3.5" stroke="#4DBEEE" stroke-width="3.9" fill="none"/>
<circle cx="1059.49" cy="797.87" r="3.5" stroke="#4DBEEE" stroke-width="3.9" fill="none"/>
<circle cx="992.55" cy="625.70" r="3.5" stroke="#0072BD" stroke-width="3.9" fill="none"/>
<circle cx="992.55" cy="660.13" r="3.5" stroke="#0072BD" stroke-width="3.9" fill="none"/>
<circle cx="992.55" cy="694.57" r="3.5" stroke="#0072BD" stroke-width="3.9" fill="none"/>
<circle cx="1059.49" cy="660.13" r="3.5" stroke="#0072BD" stroke-width="3.9" fill="none"/>
<circle cx="1059.49" cy="694.57" r="3.5" stroke="#0072BD" stroke-width="3.9" fill="none"/>
<circle cx="1059.49" cy="729.00" r="3.5" stroke="#0072BD" stroke-width="3.9" fill="none"/>
<circle cx="1126.43" cy="694.57" r="3.5" stroke="#0072BD" stroke-width="3.9" fill="none"/>
<circle cx="1126.43" cy="729.00" r="3.5" stroke="#0072BD" stroke-width="3.9" fill="none"/>
<circle cx="1126.43" cy="763.43" r="3.5" stroke="#0072BD" stroke-width="3.9" fill="none"/>
<circle cx="1193.36" cy="763.43" r="3.5" stroke="#0072BD" stroke-width="3.9" fill="none"/>
<circle cx="1193.36" cy="797.87" r="3.5" stroke="#0072BD" stroke-width="3.9" fill="none"/>
<circle cx="1260.30" cy="797.87" r="3.5" stroke="#0072BD" stroke-width="3.9" fill="none"/>
<circle cx="1260.30" cy="832.30" r="3.5" stroke="#0072BD" stroke-width="3.9" fill="none"/>
<circle cx="791.12" cy="625.70" r="3.5" stroke="#D95319" stroke-width="3.9" fill="none"/>
<circle cx="791.12" cy="660.13" r="3.5" stroke="#D95319" stroke-width="3.9" fill="none"/>
<circle cx="834.91" cy="660.13" r="3.5" stroke="#D95319" stroke-width="3.9" fill="none"/>
<circle cx="834.91" cy="694.57" r="3.5" stroke="#D95319" stroke-width="3.9" fill="none"/>
<circle cx="878.69" cy="694.57" r="3.5" stroke="#D95319" stroke-width="3.9" fill="none"/>
<circle cx="922.48" cy="729.00" r="3.5" stroke="#D95319" stroke-width="3.9" fill="none"/>
<circle cx="878.69" cy="556.83" r="3.5" stroke="#EDB120" stroke-width="3.9" fill="none"/>
<circle cx="878.69" cy="591.27" r="3.5" stroke="#EDB120" stroke-width="3.9" fill="none"/>
<circle cx="922.48" cy="591.27" r="3.5" stroke="#EDB120" stroke-width="3.9" fill="none"/>
<circle cx="922.48" cy="625.70" r="3.5" stroke="#EDB120" stroke-width="3.9" fill="none"/>
<circle cx="966.26" cy="625.70" r="3.5" stroke="#EDB120" stroke-width="3.9" fill="none"/>
<circle cx="966.26" cy="660.13" r="3.5" stroke="#EDB120" stroke-width="3.9" fill="none"/>
<circle cx="966.26" cy="694.57" r="3.5" stroke="#EDB120" stroke-width="3.9" fill="none"/>
<circle cx="1010.05" cy="660.13" r="3.5" stroke="#EDB120" stroke-width="3.9" fill="none"/>
<circle cx="1010.05" cy="694.57" r="3.5" stroke="#EDB120" stroke-width="3.9" fill="none"/>
<circle cx="1010.05" cy="729.00" r="3.5" stroke="#EDB120" stroke-width="3.9" fill="none"/>
<circle cx="1053.83" cy="694.57" r="3.5" stroke="#EDB120" stroke-width="3.9" fill="none"/>
<circle cx="1053.83" cy="729.00" r="3.5" stroke="#EDB120" stroke-width="3.9" fill="none"/>
<circle cx="1053.83" cy="763.43" r="3.5" stroke="#EDB120" stroke-width="3.9" fill="none"/>
<circle cx="1097.62" cy="729.00" r="3.5" stroke="#EDB120" stroke-width="3.9" fill="none"/>
<circle cx="1097.62" cy="763.43" r="3.5" stroke="#EDB120" stroke-width="3.9" fill="none"/>
<circle cx="1097.62" cy="797.87" r="3.5" stroke="#EDB120" stroke-width="3.9" fill="none"/>
<circle cx="1141.40" cy="729.00" r="3.5" stroke="#EDB120" stroke-width="3.9" fill="none"/>
<circle cx="1141.40" cy="763.43" r="3.5" stroke="#EDB120" stroke-width="3.9" fill="none"/>
<circle cx="1141.40" cy="797.87" r="3.5" stroke="#EDB120" stroke-width="3.9" fill="none"/>
<circle cx="1141.40" cy="832.30" r="3.5" stroke="#EDB120" stroke-width="3.9" fill="none"/>
<circle cx="1185.19" cy="763.43" r="3.5" stroke="#EDB120" stroke-width="3.9" fill="none"/>
<circle cx="1185.19" cy="797.87" r="3.5" stroke="#EDB120" stroke-width="3.9" fill="none"/>
<circle cx="1185.19" cy="832.30" r="3.5" stroke="#EDB120" stroke-width="3.9" fill="none"/>
<circle cx="1185.19" cy="866.73" r="3.5" stroke="#EDB120" stroke-width="3.9" fill="none"/>
<circle cx="1228.97" cy="866.73" r="3.5" stroke="#EDB120" stroke-width="3.9" fill="none"/>
<circle cx="1228.97" cy="901.17" r="3.5" stroke="#EDB120" stroke-width="3.9" fill="none"/>
<path d="M834.91 648.13L843.91 660.13L834.91 672.13L825.91 660.13Z" stroke="#000" stroke-width="2" fill="none" stroke-linejoin="miter"/>
<path d="M925.62 682.57L934.62 694.57L925.62 706.57L916.62 694.57Z" stroke="#000" stroke-width="2" fill="none" stroke-linejoin="miter"/>
<path d="M1059.49 682.57L1068.49 694.57L1059.49 706.57L1050.49 694.57Z" stroke="#000" stroke-width="2" fill="none" stroke-linejoin="miter"/>
<path d="M1097.62 717.00L1106.62 729.00L1097.62 741.00L1088.62 729.00Z" stroke="#000" stroke-width="2" fill="none" stroke-linejoin="miter"/>
<rect x="783.52" y="618.10" width="15.20" height="15.20" stroke="#000" stroke-width="2" fill="none"/>
<rect x="871.09" y="549.23" width="15.20" height="15.20" stroke="#000" stroke-width="2" fill="none"/>
<rect x="914.88" y="721.40" width="15.20" height="15.20" stroke="#000" stroke-width="2" fill="none"/>
<rect x="1221.37" y="893.57" width="15.20" height="15.20" stroke="#000" stroke-width="2" fill="none"/>
<path d="M783.2 618.4L800.4 618.4L929 718.6L929 735.8L914 736L834.8 708.2L783.2 667Z" fill="none" stroke="#000" stroke-width="3" stroke-dasharray="9.5 2.3 3 2.3"/>
<rect x="764.90" y="522.40" width="542.70" height="413.20" fill="none" stroke="#262626" stroke-width="1.9"/>
<path d="M764.90 935.60v-6.2M764.90 522.40v6.2M873.44 935.60v-6.2M873.44 522.40v6.2M981.98 935.60v-6.2M981.98 522.40v6.2M1090.52 935.60v-6.2M1090.52 522.40v6.2M1199.06 935.60v-6.2M1199.06 522.40v6.2M1307.60 935.60v-6.2M1307.60 522.40v6.2M764.90 935.60h6.2M1307.60 935.60h-6.2M764.90 866.73h6.2M1307.60 866.73h-6.2M764.90 797.87h6.2M1307.60 797.87h-6.2M764.90 729.00h6.2M1307.60 729.00h-6.2M764.90 660.13h6.2M1307.60 660.13h-6.2M764.90 591.27h6.2M1307.60 591.27h-6.2M764.90 522.40h6.2M1307.60 522.40h-6.2" stroke="#262626" stroke-width="1.9" fill="none"/>
<text x="764.90" y="968.60" text-anchor="middle" class="tk">0.3</text>
<text x="873.44" y="968.60" text-anchor="middle" class="tk">0.31</text>
<text x="981.98" y="968.60" text-anchor="middle" class="tk">0.32</text>
<text x="1090.52" y="968.60" text-anchor="middle" class="tk">0.33</text>
<text x="1199.06" y="968.60" text-anchor="middle" class="tk">0.34</text>
<text x="1307.60" y="968.60" text-anchor="middle" class="tk">0.35</text>
<text x="757.90" y="945.30" text-anchor="end" class="tk">-1</text>
<text x="757.90" y="876.43" text-anchor="end" class="tk">-0.8</text>
<text x="757.90" y="807.57" text-anchor="end" class="tk">-0.6</text>
<text x="757.90" y="738.70" text-anchor="end" class="tk">-0.4</text>
<text x="757.90" y="669.83" text-anchor="end" class="tk">-0.2</text>
<text x="757.90" y="600.97" text-anchor="end" class="tk">0</text>
<text x="757.90" y="532.10" text-anchor="end" class="tk">0.2</text>
<text x="786.00" y="557.50" class="an" font-size="24.5" textLength="34.8" lengthAdjust="spacingAndGlyphs">(b<tspan font-size="16.5" dy="3.8">2</tspan><tspan dy="-3.8">)</tspan></text>
<text x="884.90" y="546.40" class="an" font-size="23.4" textLength="28.54" lengthAdjust="spacingAndGlyphs">D2</text>
<text x="797.14" y="615.30" class="an" font-size="23.4" textLength="29.22" lengthAdjust="spacingAndGlyphs">G2</text>
<text x="840.68" y="649.40" class="an" font-size="23.4" textLength="26.77" lengthAdjust="spacingAndGlyphs">E2</text>
<text x="783.49" y="730.60" class="an" font-size="23.4" textLength="57.10" lengthAdjust="spacingAndGlyphs">Box 3</text>
<text x="927.84" y="751.70" class="an" font-size="23.4" textLength="28.03" lengthAdjust="spacingAndGlyphs">C2</text>
<text x="1103.97" y="718.90" class="an" font-size="23.4" textLength="27.72" lengthAdjust="spacingAndGlyphs">A2</text>
<text x="1234.09" y="890.50" class="an" font-size="23.4" textLength="27.45" lengthAdjust="spacingAndGlyphs">B2</text>
<rect x="775.00" y="798.80" width="95.20" height="126.80" fill="#fff" stroke="#262626" stroke-width="1.6"/>
<circle cx="798.90" cy="816.30" r="3.8" stroke="#4DBEEE" stroke-width="3.9" fill="none"/>
<text x="820.57" y="822.70" class="an" font-size="26.6" textLength="34.02" lengthAdjust="spacingAndGlyphs">SG</text>
<text x="855.22" y="826.10" class="an" font-size="17.4" textLength="8.70" lengthAdjust="spacingAndGlyphs">1</text>
<circle cx="798.90" cy="846.90" r="3.8" stroke="#0072BD" stroke-width="3.9" fill="none"/>
<text x="820.57" y="853.30" class="an" font-size="26.6" textLength="34.02" lengthAdjust="spacingAndGlyphs">SG</text>
<text x="855.92" y="856.70" class="an" font-size="17.4" textLength="8.70" lengthAdjust="spacingAndGlyphs">2</text>
<circle cx="798.90" cy="877.50" r="3.8" stroke="#D95319" stroke-width="3.9" fill="none"/>
<text x="820.57" y="883.90" class="an" font-size="26.6" textLength="34.02" lengthAdjust="spacingAndGlyphs">SG</text>
<text x="855.92" y="887.30" class="an" font-size="17.4" textLength="8.70" lengthAdjust="spacingAndGlyphs">3</text>
<circle cx="798.90" cy="908.10" r="3.8" stroke="#EDB120" stroke-width="3.9" fill="none"/>
<text x="820.57" y="914.50" class="an" font-size="26.6" textLength="34.02" lengthAdjust="spacingAndGlyphs">SG</text>
<text x="856.35" y="917.90" class="an" font-size="17.4" textLength="8.70" lengthAdjust="spacingAndGlyphs">4</text>
<text x="888.60" y="996.50" class="al" style="font-size:29px" textLength="133.14" lengthAdjust="spacingAndGlyphs">Absorption</text>
<text x="1030.98" y="996.50" class="al" style="font-size:29px" textLength="125.80" lengthAdjust="spacingAndGlyphs">Coefficient</text>
<text x="1165.91" y="996.50" class="al" font-style="italic" style="font-size:29px" textLength="17.29" lengthAdjust="spacingAndGlyphs">α</text>
<text transform="translate(698.10 935.82) rotate(-90)" class="al" style="font-size:29px" textLength="88.74" lengthAdjust="spacingAndGlyphs">Sample</text>
<text transform="translate(698.10 839.45) rotate(-90)" class="al" style="font-size:29px" textLength="87.01" lengthAdjust="spacingAndGlyphs">Surface</text>
<text transform="translate(698.10 742.49) rotate(-90)" class="al" style="font-size:29px" textLength="105.00" lengthAdjust="spacingAndGlyphs">Location</text>
<text transform="translate(698.10 626.39) rotate(-90)" class="al" font-style="italic" style="font-size:29px" textLength="12.23" lengthAdjust="spacingAndGlyphs">z</text>
<text transform="translate(702.60 614.24) rotate(-90)" class="al" font-style="italic" style="font-size:20px" textLength="12.00" lengthAdjust="spacingAndGlyphs">S</text>
<text transform="translate(698.10 588.85) rotate(-90)" class="al" style="font-size:29px" textLength="61.71" lengthAdjust="spacingAndGlyphs">(mm)</text>
<rect x="1441.30" y="646.26" width="542.40" height="41.32" fill="#e6e6e6"/>
<circle cx="1491.61" cy="646.26" r="3.75" stroke="#EDB120" stroke-width="4.0" fill="none"/>
<circle cx="1491.61" cy="687.58" r="3.75" stroke="#EDB120" stroke-width="4.0" fill="none"/>
<circle cx="1533.41" cy="646.26" r="3.75" stroke="#EDB120" stroke-width="4.0" fill="none"/>
<circle cx="1533.41" cy="687.58" r="3.75" stroke="#EDB120" stroke-width="4.0" fill="none"/>
<circle cx="1533.41" cy="728.90" r="3.75" stroke="#EDB120" stroke-width="4.0" fill="none"/>
<circle cx="1575.20" cy="687.58" r="3.75" stroke="#EDB120" stroke-width="4.0" fill="none"/>
<circle cx="1575.20" cy="728.90" r="3.75" stroke="#EDB120" stroke-width="4.0" fill="none"/>
<circle cx="1575.20" cy="770.22" r="3.75" stroke="#EDB120" stroke-width="4.0" fill="none"/>
<circle cx="1617.00" cy="728.90" r="3.75" stroke="#EDB120" stroke-width="4.0" fill="none"/>
<circle cx="1617.00" cy="770.22" r="3.75" stroke="#EDB120" stroke-width="4.0" fill="none"/>
<circle cx="1617.00" cy="811.54" r="3.75" stroke="#EDB120" stroke-width="4.0" fill="none"/>
<circle cx="1658.80" cy="770.22" r="3.75" stroke="#EDB120" stroke-width="4.0" fill="none"/>
<circle cx="1658.80" cy="811.54" r="3.75" stroke="#EDB120" stroke-width="4.0" fill="none"/>
<circle cx="1658.80" cy="852.86" r="3.75" stroke="#EDB120" stroke-width="4.0" fill="none"/>
<circle cx="1700.60" cy="894.18" r="3.75" stroke="#EDB120" stroke-width="4.0" fill="none"/>
<circle cx="1575.20" cy="563.62" r="3.75" stroke="#D95A1C" stroke-width="4.0" fill="none"/>
<circle cx="1617.00" cy="604.94" r="3.75" stroke="#D95A1C" stroke-width="4.0" fill="none"/>
<circle cx="1617.00" cy="646.26" r="3.75" stroke="#D95A1C" stroke-width="4.0" fill="none"/>
<circle cx="1658.80" cy="646.26" r="3.75" stroke="#D95A1C" stroke-width="4.0" fill="none"/>
<circle cx="1658.80" cy="687.58" r="3.75" stroke="#D95A1C" stroke-width="4.0" fill="none"/>
<circle cx="1700.60" cy="687.58" r="3.75" stroke="#D95A1C" stroke-width="4.0" fill="none"/>
<circle cx="1700.60" cy="728.90" r="3.75" stroke="#D95A1C" stroke-width="4.0" fill="none"/>
<circle cx="1700.60" cy="770.22" r="3.75" stroke="#D95A1C" stroke-width="4.0" fill="none"/>
<circle cx="1742.40" cy="728.90" r="3.75" stroke="#D95A1C" stroke-width="4.0" fill="none"/>
<circle cx="1742.40" cy="770.22" r="3.75" stroke="#D95A1C" stroke-width="4.0" fill="none"/>
<circle cx="1742.40" cy="811.54" r="3.75" stroke="#D95A1C" stroke-width="4.0" fill="none"/>
<circle cx="1784.20" cy="852.86" r="3.75" stroke="#D95A1C" stroke-width="4.0" fill="none"/>
<circle cx="1651.75" cy="563.62" r="6.0" stroke="#A2142F" stroke-width="4.2" fill="none"/>
<circle cx="1710.19" cy="563.62" r="6.0" stroke="#A2142F" stroke-width="4.2" fill="none"/>
<circle cx="1710.19" cy="604.94" r="6.0" stroke="#A2142F" stroke-width="4.2" fill="none"/>
<circle cx="1768.64" cy="604.94" r="6.0" stroke="#A2142F" stroke-width="4.2" fill="none"/>
<circle cx="1768.64" cy="646.26" r="6.0" stroke="#A2142F" stroke-width="4.2" fill="none"/>
<circle cx="1768.64" cy="687.58" r="6.0" stroke="#A2142F" stroke-width="4.2" fill="none"/>
<circle cx="1827.08" cy="646.26" r="6.0" stroke="#A2142F" stroke-width="4.2" fill="none"/>
<circle cx="1827.08" cy="687.58" r="6.0" stroke="#A2142F" stroke-width="4.2" fill="none"/>
<circle cx="1827.08" cy="728.90" r="6.0" stroke="#A2142F" stroke-width="4.2" fill="none"/>
<circle cx="1885.53" cy="811.54" r="6.0" stroke="#A2142F" stroke-width="4.2" fill="none"/>
<circle cx="1710.19" cy="563.62" r="2.6" stroke="#FF0000" stroke-width="4.2" fill="none"/>
<circle cx="1739.42" cy="604.94" r="2.6" stroke="#FF0000" stroke-width="4.2" fill="none"/>
<circle cx="1739.42" cy="625.60" r="2.6" stroke="#FF0000" stroke-width="4.2" fill="none"/>
<circle cx="1768.64" cy="604.94" r="2.6" stroke="#FF0000" stroke-width="4.2" fill="none"/>
<circle cx="1768.64" cy="646.26" r="2.6" stroke="#FF0000" stroke-width="4.2" fill="none"/>
<circle cx="1768.64" cy="687.58" r="2.6" stroke="#FF0000" stroke-width="4.2" fill="none"/>
<circle cx="1797.86" cy="666.92" r="2.6" stroke="#FF0000" stroke-width="4.2" fill="none"/>
<circle cx="1797.86" cy="687.58" r="2.6" stroke="#FF0000" stroke-width="4.2" fill="none"/>
<circle cx="1797.86" cy="708.24" r="2.6" stroke="#FF0000" stroke-width="4.2" fill="none"/>
<path d="M1575.20 716.90L1584.20 728.90L1575.20 740.90L1566.20 728.90Z" stroke="#000" stroke-width="2" fill="none" stroke-linejoin="miter"/>
<path d="M1700.60 716.90L1709.60 728.90L1700.60 740.90L1691.60 728.90Z" stroke="#000" stroke-width="2" fill="none" stroke-linejoin="miter"/>
<path d="M1768.64 634.26L1777.64 646.26L1768.64 658.26L1759.64 646.26Z" stroke="#000" stroke-width="2" fill="none" stroke-linejoin="miter"/>
<path d="M1768.64 628.56L1781.60 646.26L1768.64 663.96L1755.68 646.26Z" stroke="#000" stroke-width="2" fill="none" stroke-linejoin="miter"/>
<rect x="1609.40" y="638.66" width="15.20" height="15.20" stroke="#000" stroke-width="2" fill="none"/>
<rect x="1693.00" y="679.98" width="15.20" height="15.20" stroke="#000" stroke-width="2" fill="none"/>
<rect x="1441.30" y="522.30" width="542.40" height="413.20" fill="none" stroke="#262626" stroke-width="1.9"/>
<path d="M1441.30 935.50v-6.2M1441.30 522.30v6.2M1576.90 935.50v-6.2M1576.90 522.30v6.2M1712.50 935.50v-6.2M1712.50 522.30v6.2M1848.10 935.50v-6.2M1848.10 522.30v6.2M1983.70 935.50v-6.2M1983.70 522.30v6.2M1441.30 935.50h6.2M1983.70 935.50h-6.2M1441.30 852.86h6.2M1983.70 852.86h-6.2M1441.30 770.22h6.2M1983.70 770.22h-6.2M1441.30 687.58h6.2M1983.70 687.58h-6.2M1441.30 604.94h6.2M1983.70 604.94h-6.2M1441.30 522.30h6.2M1983.70 522.30h-6.2" stroke="#262626" stroke-width="1.9" fill="none"/>
<text x="1441.30" y="968.50" text-anchor="middle" class="tk">0.4</text>
<text x="1576.90" y="968.50" text-anchor="middle" class="tk">0.42</text>
<text x="1712.50" y="968.50" text-anchor="middle" class="tk">0.44</text>
<text x="1848.10" y="968.50" text-anchor="middle" class="tk">0.46</text>
<text x="1983.70" y="968.50" text-anchor="middle" class="tk">0.48</text>
<text x="1434.30" y="945.20" text-anchor="end" class="tk">-0.8</text>
<text x="1434.30" y="862.56" text-anchor="end" class="tk">-0.6</text>
<text x="1434.30" y="779.92" text-anchor="end" class="tk">-0.4</text>
<text x="1434.30" y="697.28" text-anchor="end" class="tk">-0.2</text>
<text x="1434.30" y="614.64" text-anchor="end" class="tk">0</text>
<text x="1434.30" y="532.00" text-anchor="end" class="tk">0.2</text>
<text x="1462.00" y="557.50" class="an" font-size="24.5" textLength="34.8" lengthAdjust="spacingAndGlyphs">(c<tspan font-size="16.5" dy="3.8">2</tspan><tspan dy="-3.8">)</tspan></text>
<text x="1626.24" y="633.90" class="an" font-size="26.4" textLength="31.23" lengthAdjust="spacingAndGlyphs">A3</text>
<text x="1708.89" y="675.30" class="an" font-size="26.4" textLength="31.33" lengthAdjust="spacingAndGlyphs">B3</text>
<rect x="1451.20" y="798.80" width="99.30" height="126.90" fill="#fff" stroke="#262626" stroke-width="1.6"/>
<circle cx="1475.10" cy="816.40" r="3.8" stroke="#EDB120" stroke-width="3.9" fill="none"/>
<text x="1497.34" y="822.40" class="an" font-size="26.6" textLength="37.08" lengthAdjust="spacingAndGlyphs">TG</text>
<text x="1535.02" y="825.80" class="an" font-size="17.4" textLength="8.70" lengthAdjust="spacingAndGlyphs">1</text>
<circle cx="1475.10" cy="847.00" r="3.8" stroke="#D95A1C" stroke-width="3.9" fill="none"/>
<text x="1497.34" y="853.00" class="an" font-size="26.6" textLength="37.08" lengthAdjust="spacingAndGlyphs">TG</text>
<text x="1535.72" y="856.40" class="an" font-size="17.4" textLength="8.70" lengthAdjust="spacingAndGlyphs">2</text>
<circle cx="1475.10" cy="877.60" r="3.8" stroke="#A2142F" stroke-width="3.9" fill="none"/>
<text x="1497.34" y="883.60" class="an" font-size="26.6" textLength="37.08" lengthAdjust="spacingAndGlyphs">TG</text>
<text x="1535.72" y="887.00" class="an" font-size="17.4" textLength="8.70" lengthAdjust="spacingAndGlyphs">3</text>
<circle cx="1475.10" cy="908.20" r="3.8" stroke="#FF0000" stroke-width="3.9" fill="none"/>
<text x="1497.34" y="914.20" class="an" font-size="26.6" textLength="37.08" lengthAdjust="spacingAndGlyphs">TG</text>
<text x="1536.15" y="917.60" class="an" font-size="17.4" textLength="8.70" lengthAdjust="spacingAndGlyphs">4</text>
<text x="1560.30" y="996.50" class="al" style="font-size:29px" textLength="133.14" lengthAdjust="spacingAndGlyphs">Absorption</text>
<text x="1702.68" y="996.50" class="al" style="font-size:29px" textLength="125.80" lengthAdjust="spacingAndGlyphs">Coefficient</text>
<text x="1837.61" y="996.50" class="al" font-style="italic" style="font-size:29px" textLength="17.29" lengthAdjust="spacingAndGlyphs">α</text>
<text transform="translate(1374.70 935.82) rotate(-90)" class="al" style="font-size:29px" textLength="88.74" lengthAdjust="spacingAndGlyphs">Sample</text>
<text transform="translate(1374.70 839.45) rotate(-90)" class="al" style="font-size:29px" textLength="87.01" lengthAdjust="spacingAndGlyphs">Surface</text>
<text transform="translate(1374.70 742.49) rotate(-90)" class="al" style="font-size:29px" textLength="105.00" lengthAdjust="spacingAndGlyphs">Location</text>
<text transform="translate(1374.70 626.39) rotate(-90)" class="al" font-style="italic" style="font-size:29px" textLength="12.23" lengthAdjust="spacingAndGlyphs">z</text>
<text transform="translate(1379.20 614.24) rotate(-90)" class="al" font-style="italic" style="font-size:20px" textLength="12.00" lengthAdjust="spacingAndGlyphs">S</text>
<text transform="translate(1374.70 588.85) rotate(-90)" class="al" style="font-size:29px" textLength="61.71" lengthAdjust="spacingAndGlyphs">(mm)</text>
</svg></body></html>
